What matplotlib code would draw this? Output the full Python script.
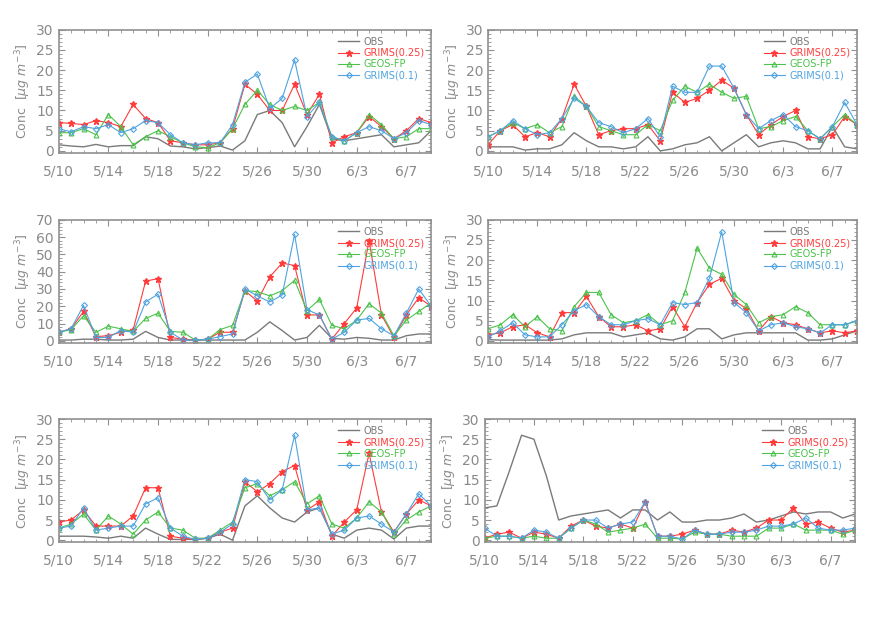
import numpy as np
import matplotlib
matplotlib.use("Agg")
import matplotlib.pyplot as plt
from matplotlib.ticker import MultipleLocator

# ==================== DATA ====================
days = list(range(31))  # 5/10 .. 6/9
tick_days = [0, 4, 8, 12, 16, 20, 24, 28]
tick_labels = ["5/10", "5/14", "5/18", "5/22", "5/26", "5/30", "6/3", "6/7"]

# panel 1 (top left)
p1_obs = [1.5, 1.2, 1.0, 1.6, 1.0, 1.3, 1.3, 3.5, 3.0, 1.2, 1.0, 0.5, 0.8, 1.2, 0.2, 2.5,
          9.0, 10.0, 7.0, 1.0, 6.0, 11.5, 3.0, 2.5, 3.0, 3.5, 4.0, 1.0, 1.5, 2.0, 5.0]
p1_g25 = [7.0, 6.8, 6.5, 7.5, 7.0, 6.0, 11.5, 8.0, 7.0, 2.5, 2.0, 1.5, 1.5, 2.0, 5.5, 16.5,
          14.0, 10.0, 10.0, 16.5, 9.0, 14.0, 2.0, 3.5, 4.5, 8.5, 6.0, 3.0, 5.0, 8.0, 7.0]
p1_geos = [4.5, 4.5, 5.5, 4.0, 9.0, 6.0, 1.5, 3.5, 5.0, 3.5, 2.0, 1.0, 0.8, 2.0, 5.5, 11.5,
           15.0, 11.5, 10.0, 11.0, 10.0, 12.0, 3.5, 2.5, 4.5, 9.0, 6.5, 3.0, 3.5, 5.5, 5.5]
p1_g01 = [5.5, 4.7, 6.0, 5.5, 6.5, 4.5, 5.5, 7.5, 7.0, 4.0, 2.0, 1.5, 2.0, 2.0, 6.5, 17.0,
          19.0, 10.5, 13.0, 22.5, 8.5, 12.0, 3.5, 2.5, 4.5, 6.0, 5.0, 3.0, 4.5, 7.5, 6.5]

# panel 2 (top right)
p2_obs = [1.0, 1.0, 1.0, 0.2, 0.5, 0.5, 1.5, 4.5, 2.5, 1.0, 1.0, 0.5, 1.0, 3.5, 0.0, 0.5,
          1.5, 2.0, 3.5, 0.0, 2.0, 4.0, 1.0, 2.0, 2.5, 2.0, 0.5, 0.5, 6.0, 1.0, 0.5]
p2_g25 = [1.5, 5.0, 6.5, 3.5, 4.5, 3.5, 8.0, 16.5, 11.0, 4.0, 5.0, 5.5, 5.5, 6.5, 2.5, 14.5,
          12.0, 13.0, 15.0, 17.5, 15.5, 9.0, 4.0, 6.5, 8.5, 10.0, 3.5, 3.0, 4.0, 8.5, 6.5]
p2_geos = [3.5, 5.0, 7.0, 5.5, 6.5, 4.5, 6.0, 13.5, 11.0, 6.0, 5.0, 4.0, 4.0, 6.5, 5.0, 12.5,
           16.0, 14.5, 16.5, 14.5, 13.0, 13.5, 5.5, 6.0, 7.5, 8.5, 5.0, 3.0, 6.0, 9.0, 6.5]
p2_g01 = [3.5, 5.0, 7.5, 5.5, 4.0, 4.5, 8.0, 13.0, 11.0, 7.0, 6.0, 4.5, 5.5, 8.0, 3.5, 16.0,
          14.5, 14.5, 21.0, 21.0, 15.5, 9.0, 5.5, 7.5, 9.0, 6.0, 5.0, 3.0, 6.0, 12.0, 6.5]

# panel 3 (middle left)
p3_obs = [0.5, 0.5, 1.0, 1.0, 0.5, 0.5, 1.0, 5.5, 2.0, 0.5, 0.5, 0.5, 0.5, 0.5, 0.5, 0.5,
          5.0, 11.0, 6.0, 0.5, 2.0, 9.0, 1.5, 1.0, 2.0, 1.5, 0.5, 0.5, 3.0, 4.0, 4.0]
p3_g25 = [5.0, 7.0, 17.0, 2.5, 3.0, 5.0, 6.5, 34.5, 36.0, 2.0, 1.0, 0.5, 1.0, 5.0, 5.0, 29.0,
          23.0, 37.0, 45.0, 43.5, 15.0, 15.0, 1.0, 10.0, 19.0, 58.0, 15.0, 2.0, 15.0, 25.0, 20.0]
p3_geos = [5.0, 6.5, 14.5, 5.0, 8.5, 7.0, 5.5, 13.0, 16.0, 5.5, 5.0, 0.5, 1.0, 6.5, 9.0, 29.0,
           28.5, 26.0, 29.0, 35.0, 17.5, 24.0, 9.0, 7.0, 12.0, 21.5, 16.0, 3.0, 12.0, 17.0, 22.0]
p3_g01 = [5.0, 7.0, 20.5, 2.0, 2.0, 6.0, 5.0, 22.5, 27.0, 5.0, 0.5, 0.5, 1.0, 2.5, 4.0, 30.0,
          26.0, 22.5, 26.5, 61.5, 18.0, 15.0, 1.0, 5.0, 12.0, 13.0, 7.0, 3.0, 16.0, 30.0, 20.0]

# panel 4 (middle right)
p4_obs = [0.3, 0.2, 0.2, 0.2, 0.2, 0.2, 0.5, 1.5, 2.0, 2.0, 2.0, 1.0, 1.5, 2.0, 0.5, 0.2,
          1.0, 3.0, 3.0, 0.5, 1.5, 2.0, 2.0, 2.0, 2.0, 2.0, 0.2, 0.2, 0.5, 1.5, 2.5]
p4_g25 = [1.5, 2.0, 3.5, 4.0, 2.0, 1.0, 7.0, 7.0, 11.0, 6.0, 3.5, 3.5, 4.0, 2.5, 3.0, 8.5,
          3.5, 9.5, 14.0, 15.5, 10.0, 8.0, 2.5, 6.0, 4.5, 4.0, 3.0, 2.0, 2.5, 2.0, 2.5]
p4_geos = [3.0, 4.0, 6.5, 3.5, 6.0, 3.0, 2.5, 8.5, 12.0, 12.0, 6.5, 4.5, 5.0, 6.5, 4.0, 5.0,
           12.0, 23.0, 18.0, 16.5, 11.5, 9.0, 4.5, 6.0, 6.5, 8.5, 7.0, 4.0, 4.0, 4.0, 5.0]
p4_g01 = [1.0, 2.5, 4.5, 1.5, 1.0, 1.0, 4.0, 7.5, 9.0, 6.0, 4.0, 4.0, 5.0, 5.5, 4.0, 9.5,
          9.0, 9.5, 15.5, 27.0, 9.5, 7.0, 2.5, 4.0, 4.5, 3.5, 3.0, 2.0, 4.0, 4.0, 5.0]

# panel 5 (bottom left)
p5_obs = [1.0, 1.0, 1.0, 0.8, 0.5, 1.0, 0.5, 3.0, 1.5, 0.2, 0.2, 0.2, 0.5, 1.5, 0.0, 8.5,
          11.0, 8.0, 5.5, 4.5, 7.0, 8.0, 1.5, 0.5, 2.5, 3.0, 2.5, 0.3, 3.0, 3.5, 3.5]
p5_g25 = [4.5, 5.0, 7.5, 3.5, 3.5, 3.5, 6.0, 13.0, 13.0, 1.0, 0.5, 0.2, 0.5, 2.0, 3.0, 14.5,
          12.0, 14.0, 17.0, 18.5, 7.5, 9.5, 1.0, 4.5, 7.5, 21.5, 7.0, 2.0, 6.5, 10.0, 8.5]
p5_geos = [3.0, 4.0, 6.5, 2.5, 6.0, 4.0, 1.5, 5.0, 7.0, 3.0, 2.5, 0.5, 0.5, 2.5, 4.5, 13.0,
           14.0, 11.0, 12.5, 14.5, 9.0, 11.0, 4.0, 3.0, 5.5, 9.5, 7.0, 1.5, 5.0, 7.0, 8.5]
p5_g01 = [3.0, 3.5, 8.0, 2.5, 3.0, 3.5, 3.5, 9.0, 10.5, 3.0, 1.0, 0.2, 0.5, 2.0, 4.0, 15.0,
          14.5, 10.0, 12.5, 26.0, 7.5, 8.0, 1.5, 2.5, 5.5, 6.0, 4.0, 2.0, 6.5, 11.5, 8.5]

# panel 6 (bottom right)
p6_obs = [8.0, 8.5, 17.0, 26.0, 25.0, 16.0, 5.0, 6.0, 6.5, 7.0, 7.5, 5.5, 7.5, 7.5, 5.0, 7.0,
          4.5, 4.5, 5.0, 5.0, 5.5, 6.5, 4.5, 5.0, 6.0, 7.0, 6.5, 7.0, 7.0, 5.5, 6.5]
p6_g25 = [0.5, 1.5, 2.0, 0.5, 2.0, 1.5, 0.5, 3.5, 5.0, 3.5, 3.0, 4.0, 3.0, 9.5, 1.0, 1.0,
          1.5, 2.5, 1.5, 1.5, 2.5, 2.0, 3.0, 5.0, 5.0, 8.0, 4.0, 4.5, 3.0, 2.0, 2.5]
p6_geos = [0.5, 1.0, 1.0, 0.5, 1.0, 0.5, 0.5, 3.0, 5.0, 4.0, 2.0, 2.5, 3.0, 4.0, 0.5, 0.5,
           0.3, 2.0, 1.5, 1.5, 1.0, 1.0, 1.0, 3.0, 3.0, 4.0, 2.5, 2.5, 2.5, 1.5, 2.5]
p6_g01 = [3.0, 1.0, 1.0, 0.5, 2.5, 2.0, 0.5, 3.0, 5.0, 5.0, 3.0, 4.0, 4.5, 9.5, 1.0, 1.0,
          0.3, 2.5, 1.5, 1.5, 2.0, 2.0, 2.5, 3.5, 3.5, 4.0, 5.5, 3.0, 2.5, 2.5, 3.0]

panels = [
    (p1_obs, p1_g25, p1_geos, p1_g01, 30),
    (p2_obs, p2_g25, p2_geos, p2_g01, 30),
    (p3_obs, p3_g25, p3_geos, p3_g01, 70),
    (p4_obs, p4_g25, p4_geos, p4_g01, 30),
    (p5_obs, p5_g25, p5_geos, p5_g01, 30),
    (p6_obs, p6_g25, p6_geos, p6_g01, 30),
]

# ==================== STYLE ====================
C_OBS = "#7a7a7a"
C_G25 = "#ff3b3b"
C_GEOS = "#4cc24c"
C_G01 = "#4fa3e0"
C_TXT = "#8a8a8a"
C_FRAME = "#909090"

# axes boxes in figure fractions [left, bottom, width, height]
boxes = [
    [0.066, 0.753, 0.419, 0.199],
    [0.549, 0.753, 0.415, 0.199],
    [0.066, 0.446, 0.419, 0.199],
    [0.549, 0.446, 0.415, 0.199],
    [0.066, 0.124, 0.419, 0.199],
    [0.545, 0.124, 0.417, 0.199],
]

fig = plt.figure(figsize=(8.89, 6.19), dpi=100)

for (obs, g25, geos, g01, ymax), box in zip(panels, boxes):
    ax = fig.add_axes(box)
    ax.plot(days, obs, color=C_OBS, lw=1.0, label="OBS")
    ax.plot(days, g25, color=C_G25, lw=0.8, marker="*", ms=4.5, label="GRIMS(0.25)")
    ax.plot(days, geos, color=C_GEOS, lw=0.8, marker="^", ms=3.5, mfc="none",
            mew=0.8, label="GEOS-FP")
    ax.plot(days, g01, color=C_G01, lw=0.8, marker="D", ms=3.0, mfc="none",
            mew=0.8, label="GRIMS(0.1)")

    ax.set_xlim(0, 30)
    ax.set_ylim(-ymax / 60.0, ymax)
    ax.set_xticks(tick_days)
    ax.set_xticklabels(tick_labels)
    ax.xaxis.set_minor_locator(MultipleLocator(1))
    if ymax == 70:
        ax.yaxis.set_major_locator(MultipleLocator(10))
        ax.yaxis.set_minor_locator(MultipleLocator(2))
    else:
        ax.yaxis.set_major_locator(MultipleLocator(5))
        ax.yaxis.set_minor_locator(MultipleLocator(1))

    ax.tick_params(which="both", direction="in", top=True, right=True,
                   color=C_FRAME, labelcolor=C_TXT, labelsize=10)
    ax.tick_params(which="major", length=4, width=0.8)
    ax.tick_params(which="minor", length=2, width=0.6)
    ax.tick_params(axis="x", pad=8)
    for sp in ax.spines.values():
        sp.set_color(C_FRAME)
        sp.set_linewidth(1.2)

    ax.set_ylabel(r"Conc  [$\mu g\ m^{-3}$]", color=C_TXT, fontsize=9, labelpad=2)

    leg = ax.legend(loc="upper right", frameon=False, fontsize=7, handlelength=2.2,
                    labelspacing=0.15, borderaxespad=0.3, handletextpad=0.4)
    for txt, col in zip(leg.get_texts(), [C_OBS, C_G25, C_GEOS, C_G01]):
        txt.set_color(col)

fig.savefig("out.png", dpi=100, facecolor="white")
